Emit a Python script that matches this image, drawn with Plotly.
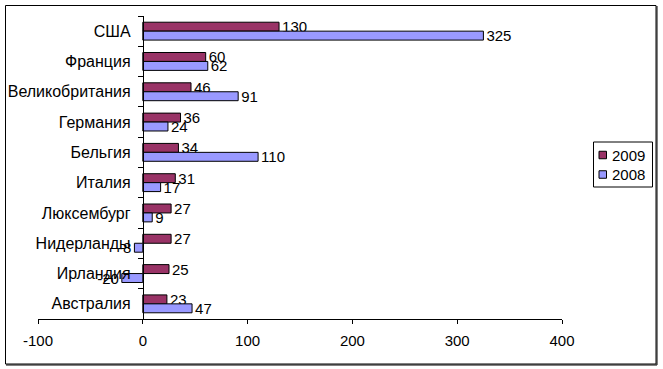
import plotly.graph_objects as go

countries = ["США", "Франция", "Великобритания", "Германия", "Бельгия",
             "Италия", "Люксембург", "Нидерланды", "Ирландия", "Австралия"]
values_2009 = [130, 60, 46, 36, 34, 31, 27, 27, 25, 23]
values_2008 = [325, 62, 91, 24, 110, 17, 9, -8, -20, 47]
series_names = ["2009", "2008"]
series_colors = ["#993366", "#9999FF"]
x_ticks = [-100, 0, 100, 200, 300, 400]

FONT = "Liberation Sans, Arial, sans-serif"
FS = 15

fig = go.Figure()
for name, vals, col in zip(series_names, [values_2009, values_2008], series_colors):
    fig.add_trace(go.Bar(
        y=countries, x=vals, name=name, orientation="h",
        marker=dict(color=col, line=dict(color="black", width=1)),
        text=[str(v) for v in vals], textposition="outside",
        textfont=dict(size=FS, color="black", family=FONT),
        constraintext="none", cliponaxis=False, showlegend=False,
    ))

L, R, T, B = 38, 101, 16, 50
W, H = 663, 369
pw, ph = W - L - R, H - T - B

def px(xp):
    return (xp - L) / pw

def py(yp):
    return (H - B - yp) / ph

shapes = [
    dict(type="rect", xref="paper", yref="paper",
         x0=px(5.5), x1=px(656), y0=py(364), y1=py(5.5),
         line=dict(color="black", width=1), layer="below"),
    dict(type="line", xref="paper", yref="paper",
         x0=px(657), x1=px(657), y0=py(365), y1=py(6),
         line=dict(color="black", width=1)),
    dict(type="line", xref="paper", yref="paper",
         x0=px(6), x1=px(657), y0=py(365), y1=py(365),
         line=dict(color="black", width=1)),
    # legend box
    dict(type="rect", xref="paper", yref="paper",
         x0=px(593.5), x1=px(652.5), y0=py(187), y1=py(142),
         line=dict(color="black", width=1), fillcolor="white"),
]
annotations = []
legend_rows = [155, 174.5]
for name, col, yc in zip(series_names, series_colors, legend_rows):
    shapes.append(dict(type="rect", xref="paper", yref="paper",
                       x0=px(599), x1=px(606.5), y0=py(yc + 3.75), y1=py(yc - 3.75),
                       line=dict(color="black", width=1), fillcolor=col))
    annotations.append(dict(text=name, xref="paper", yref="paper",
                            x=px(610), y=py(yc), xanchor="left", yanchor="middle",
                            showarrow=False, font=dict(size=FS, color="black", family=FONT)))

fig.update_layout(
    width=W, height=H,
    margin=dict(l=L, r=R, t=T, b=B, pad=0, autoexpand=False),
    paper_bgcolor="white", plot_bgcolor="white",
    barmode="group", bargap=0.41, bargroupgap=0,
    font=dict(family=FONT, size=FS, color="black"),
    showlegend=False,
    xaxis=dict(
        range=[-100, 400], tickvals=x_ticks, ticktext=[str(v) for v in x_ticks],
        showgrid=False, zeroline=False, showline=True, linecolor="black",
        linewidth=1, ticks="outside", ticklen=4, tickcolor="black",
        tickfont=dict(size=FS), ticklabelstandoff=4, automargin=False,
    ),
    yaxis=dict(
        type="category", autorange="reversed", anchor="free", position=0.2,
        showgrid=False, zeroline=False, showline=True, linecolor="black",
        linewidth=1, ticks="outside", ticklen=5, tickcolor="black",
        tickson="boundaries", tickfont=dict(size=16), ticklabelstandoff=9,
        automargin=False,
    ),
    shapes=shapes,
    annotations=annotations,
)

fig.write_html("out.html", config={"displayModeBar": False},
               post_script="document.body.style.margin='0';")
